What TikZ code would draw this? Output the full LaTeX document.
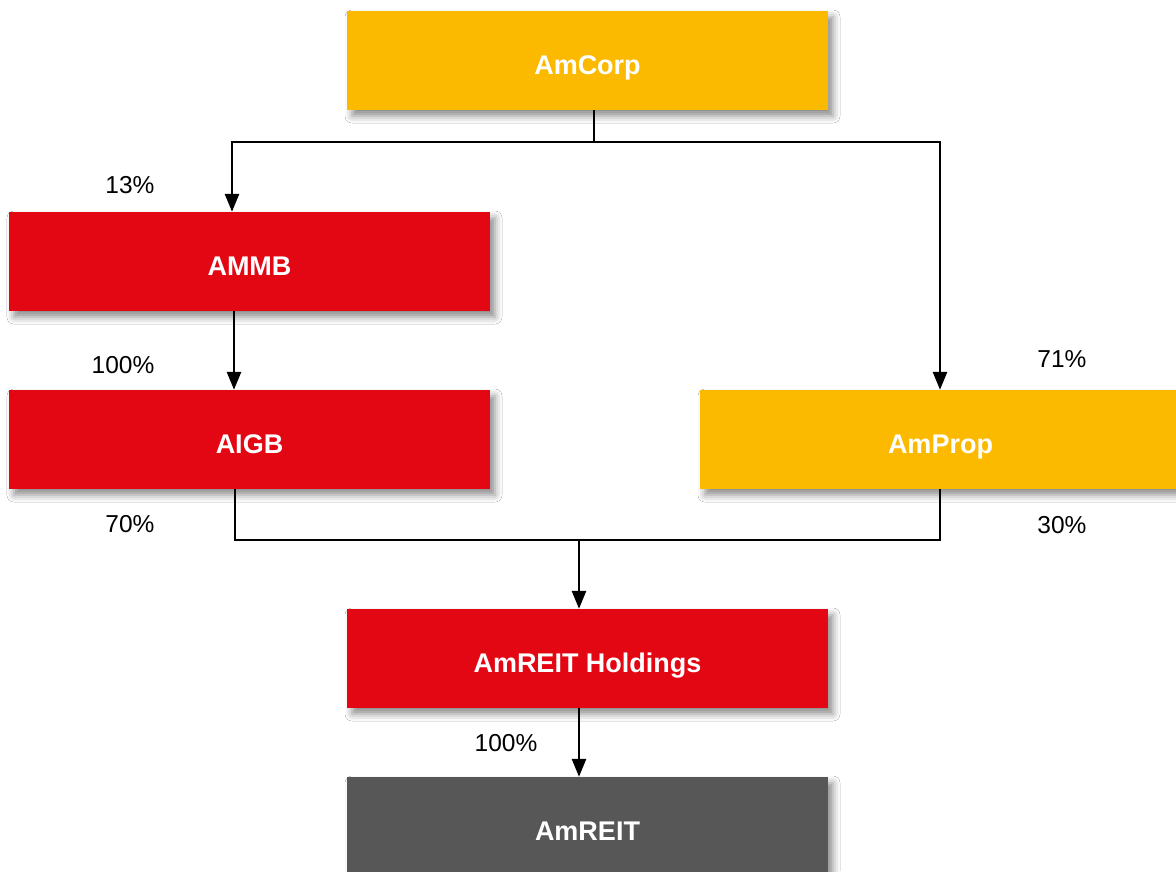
\documentclass[tikz,border=0pt]{standalone}
\usepackage{fontspec}
\setmainfont{Liberation Sans}
\usetikzlibrary{arrows.meta,shadows.blur}
\definecolor{amyellow}{HTML}{FBBA00}
\definecolor{amred}{HTML}{E30613}
\definecolor{amgrey}{HTML}{575757}
\begin{document}
\begin{tikzpicture}[x=1pt,y=-1pt,
  box/.style={minimum width=481pt,minimum height=99pt,inner sep=0pt,
    text=white,font=\fontsize{27}{32}\selectfont\bfseries,
    text height=27pt,text depth=0pt,
    blur shadow={shadow xshift=5pt,shadow yshift=-6pt,shadow blur radius=7pt,shadow opacity=45}},
  ybox/.style={box,fill=amyellow},
  rbox/.style={box,fill=amred},
  gbox/.style={box,fill=amgrey},
  pct/.style={font=\fontsize{24.5}{28}\selectfont,text=black,inner sep=0pt},
  link/.style={line width=2.8pt,draw=black},
  arr/.style={link,-{Triangle[length=18pt,width=14pt]}}]
\useasboundingbox[fill=white] (0,0) rectangle (1176,871);
\node[ybox] (amcorp) at (587.5,60.5) {AmCorp};
\node[rbox] (ammb) at (249.5,261.5) {AMMB};
\node[rbox] (aigb) at (249.5,439.5) {AIGB};
\node[ybox] (amprop) at (940.5,439.5) {AmProp};
\node[rbox] (hold) at (587.5,658.5) {AmREIT Holdings};
\node[gbox] (reit) at (587.5,826.5) {AmREIT};
% junctions
\coordinate (j1) at (594,142);
\coordinate (xl) at (232,142);
\coordinate (xr) at (940,142);
\coordinate (xa) at (234,0);
\coordinate (xb) at (235,540);
\coordinate (j2) at (579,540);
\coordinate (xc) at (940,540);
\coordinate (xh) at (579,0);
% connectors
\draw[link] (amcorp.south -| j1) -- (j1);
\draw[arr] (j1) -- (xl) -- (ammb.north -| xl);
\draw[arr] (j1) -- (xr) -- (amprop.north -| xr);
\draw[arr] (ammb.south -| xa) -- (aigb.north -| xa);
\draw[link] (aigb.south -| xb) -- (xb) -- (xc) -- (amprop.south -| xc);
\draw[arr] (j2) -- (hold.north -| j2);
\draw[arr] (hold.south -| xh) -- (reit.north -| xh);
% labels
\node[pct] (l13) at (130,185) {13\%};
\node[pct] (l100a) at (123,365) {100\%};
\node[pct] (l70) at (130,524) {70\%};
\node[pct] (l71) at (1062,359) {71\%};
\node[pct] (l30) at (1062,525) {30\%};
\node[pct] (l100b) at (506,743) {100\%};
\end{tikzpicture}
\end{document}
